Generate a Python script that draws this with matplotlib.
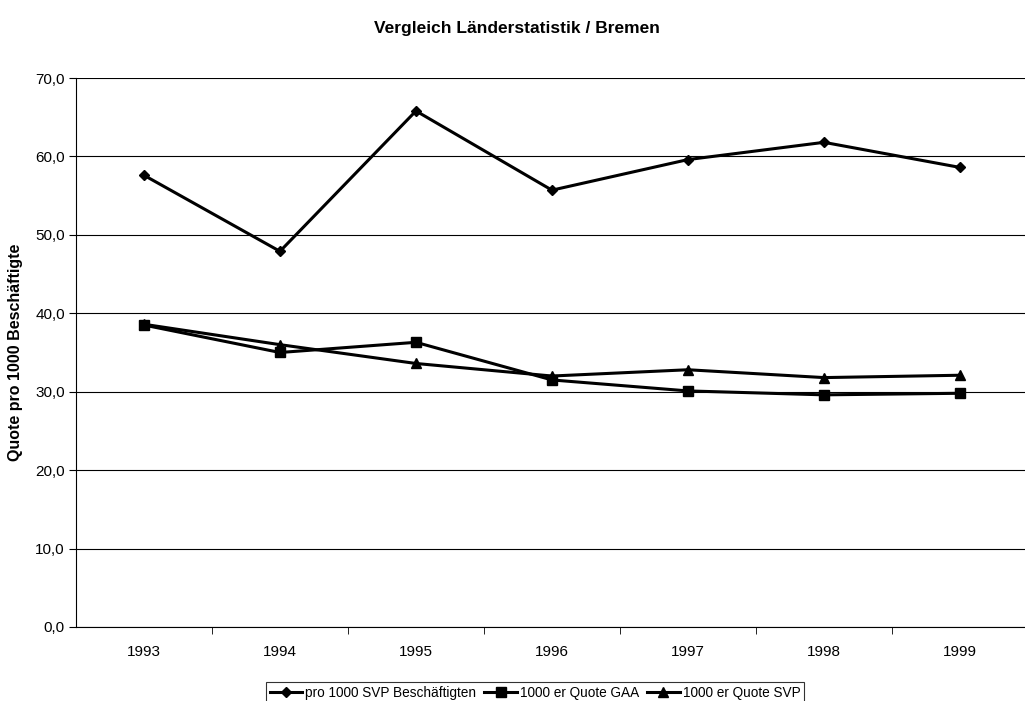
import numpy as np
import matplotlib
matplotlib.use("Agg")
import matplotlib.pyplot as plt

plt.rcParams['font.family'] = ['Liberation Sans', 'DejaVu Sans']

years = ["1993", "1994", "1995", "1996", "1997", "1998", "1999"]
pro_1000_svp = [57.6, 47.9, 65.8, 55.7, 59.6, 61.8, 58.6]
quote_gaa = [38.5, 35.0, 36.3, 31.5, 30.1, 29.6, 29.8]
quote_svp = [38.6, 36.0, 33.6, 32.0, 32.8, 31.8, 32.1]

fig = plt.figure(figsize=(10.25, 7.01), dpi=100)
ax = fig.add_axes([0.0741, 0.1056, 0.9288, 0.7831])

x = np.arange(len(years))
ax.plot(x, pro_1000_svp, color='black', lw=2.2, marker='D', ms=5.5,
        label='pro 1000 SVP Beschäftigten')
ax.plot(x, quote_gaa, color='black', lw=2.2, marker='s', ms=6.5,
        label='1000 er Quote GAA')
ax.plot(x, quote_svp, color='black', lw=2.2, marker='^', ms=7,
        label='1000 er Quote SVP')

ax.set_xlim(-0.5, len(years) - 0.5)
ax.set_ylim(0, 70)
ax.set_yticks(np.arange(0, 71, 10))
ax.set_yticklabels([f"{v:.1f}".replace('.', ',') for v in np.arange(0, 71, 10)])
ax.set_xticks(x)
ax.set_xticklabels(years)
# tick marks sit between the categories
ax.set_xticks(np.arange(0.5, len(years) - 1, 1), minor=True)
ax.tick_params(axis='x', which='major', length=0, pad=13, labelsize=11)
ax.tick_params(axis='x', which='minor', length=5, direction='out')
ax.tick_params(axis='y', length=5, direction='out', labelsize=11, pad=3)

ax.grid(axis='y', color='black', lw=0.8)
ax.set_axisbelow(True)
for side in ['top', 'right']:
    ax.spines[side].set_visible(False)
ax.spines['left'].set_color('black')
ax.spines['bottom'].set_color('black')

ax.set_ylabel('Quote pro 1000 Beschäftigte', fontsize=11.5, fontweight='bold', labelpad=9)
fig.text(0.504, 0.96, 'Vergleich Länderstatistik / Bremen', ha='center', va='center',
         fontsize=12.5, fontweight='bold')

leg = fig.legend(loc='lower center', bbox_to_anchor=(0.522, -0.004), ncol=3,
                 fontsize=9.8, frameon=True, fancybox=False, edgecolor='black',
                 handlelength=2.4, handletextpad=0.2, columnspacing=0.6,
                 borderpad=0.3, borderaxespad=0)
leg.get_frame().set_linewidth(0.8)

fig.savefig('out.png', dpi=100)
